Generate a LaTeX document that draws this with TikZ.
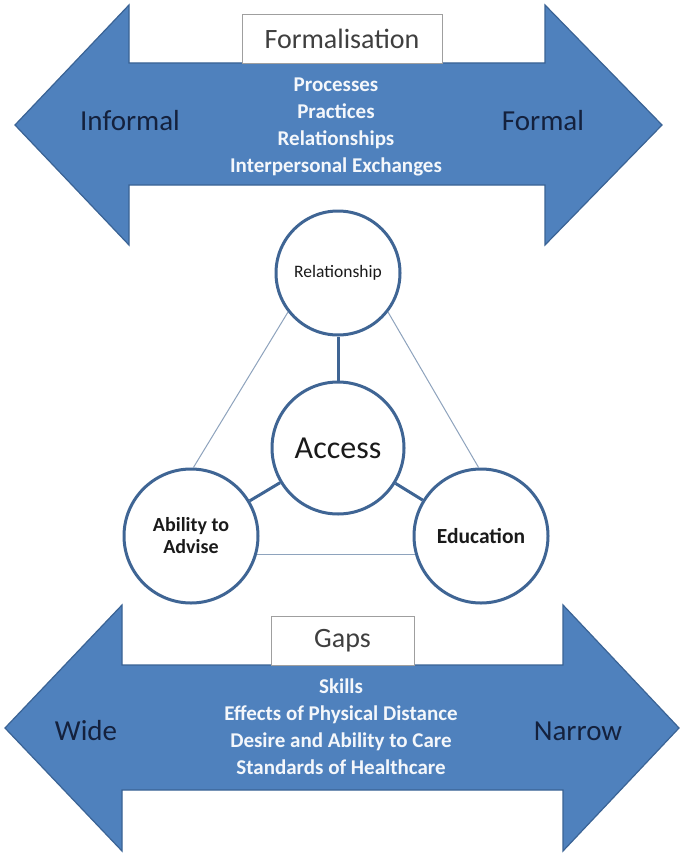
\documentclass[tikz,border=0pt]{standalone}
\usepackage{fontspec}
\setmainfont{Carlito}
\definecolor{arrowfill}{HTML}{4F81BD}
\definecolor{arrowline}{HTML}{3A6395}
\definecolor{ringblue}{HTML}{3F6594}
\definecolor{thinline}{HTML}{8EA3BD}
\definecolor{navy}{HTML}{14213D}
\definecolor{boxtext}{HTML}{3F3F3F}
\definecolor{itemwhite}{HTML}{F4F7FB}
\definecolor{circtext}{HTML}{1A1A1A}
\begin{document}
\begin{tikzpicture}[x=1pt,y=-1pt,
  bigarrow/.style={fill=arrowfill, draw=arrowline, line width=1.2pt, line join=miter},
  titlebox/.style={draw=gray!75, fill=white, line width=0.8pt, text=boxtext,
    font=\fontsize{28}{30}\selectfont, inner sep=0pt},
  endlabel/.style={text=navy, font=\fontsize{29}{32}\selectfont},
  itemtext/.style={text=itemwhite, font=\bfseries\fontsize{21}{27}\selectfont, align=center},
  ring/.style={circle, draw=ringblue, line width=3pt, fill=white, inner sep=0pt, align=center, text=circtext},
  thicklink/.style={draw=ringblue, line width=3pt},
  thinlink/.style={draw=thinline, line width=1pt}]
\useasboundingbox (0,0) rectangle (685,856);
\fill[white] (0,0) rectangle (685,856);

% top double arrow
\path[bigarrow] (15,125) -- (129,5) -- (129,63) -- (545,63) -- (545,5) -- (662,125)
  -- (545,245) -- (545,185) -- (129,185) -- (129,245) -- cycle;
% bottom double arrow
\path[bigarrow] (5,728) -- (122,605) -- (122,665) -- (563,665) -- (563,605) -- (679,728)
  -- (563,851) -- (563,790) -- (122,790) -- (122,851) -- cycle;

% title boxes
\node[titlebox, minimum width=200pt, minimum height=49pt] (formbox) at (342,38.5) {Formalisation};
\node[titlebox, minimum width=143pt, minimum height=49pt] (gapbox) at (342.5,640.5) {Gaps};

% arrow end labels
\node[endlabel] (informal) at (130,121) {Informal};
\node[endlabel] (formal) at (543,121) {Formal};
\node[endlabel] (wide) at (86,731) {Wide};
\node[endlabel] (narrow) at (578,731) {Narrow};

% arrow contents
\node[itemtext] (formitems) at (336,127) {Processes\\Practices\\Relationships\\Interpersonal Exchanges};
\node[itemtext] (gapitems) at (341,727) {Skills\\Effects of Physical Distance\\Desire and Ability to Care\\Standards of Healthcare};

% circles
\node[ring, minimum size=124pt, font=\fontsize{17.5}{19}\selectfont] (rel) at (338,273) {Relationship};
\node[ring, minimum size=132pt, font=\fontsize{32}{34}\selectfont] (acc) at (338,448) {Access};
\node[ring, minimum size=134pt, font=\bfseries\fontsize{20}{22}\selectfont] (abil) at (191,536) {Ability to\\Advise};
\node[ring, minimum size=134pt, font=\bfseries\fontsize{21.5}{23}\selectfont] (edu) at (481,536) {Education};

% thin triangle links
\draw[thinlink] (rel.218) -- (abil.88);
\draw[thinlink] (rel.322) -- (edu.92);
\draw[thinlink] (abil.-16) -- (edu.196);

% thick spokes
\draw[thicklink] (rel) -- (acc);
\draw[thicklink] (acc) -- (abil);
\draw[thicklink] (acc) -- (edu);
\end{tikzpicture}
\end{document}
